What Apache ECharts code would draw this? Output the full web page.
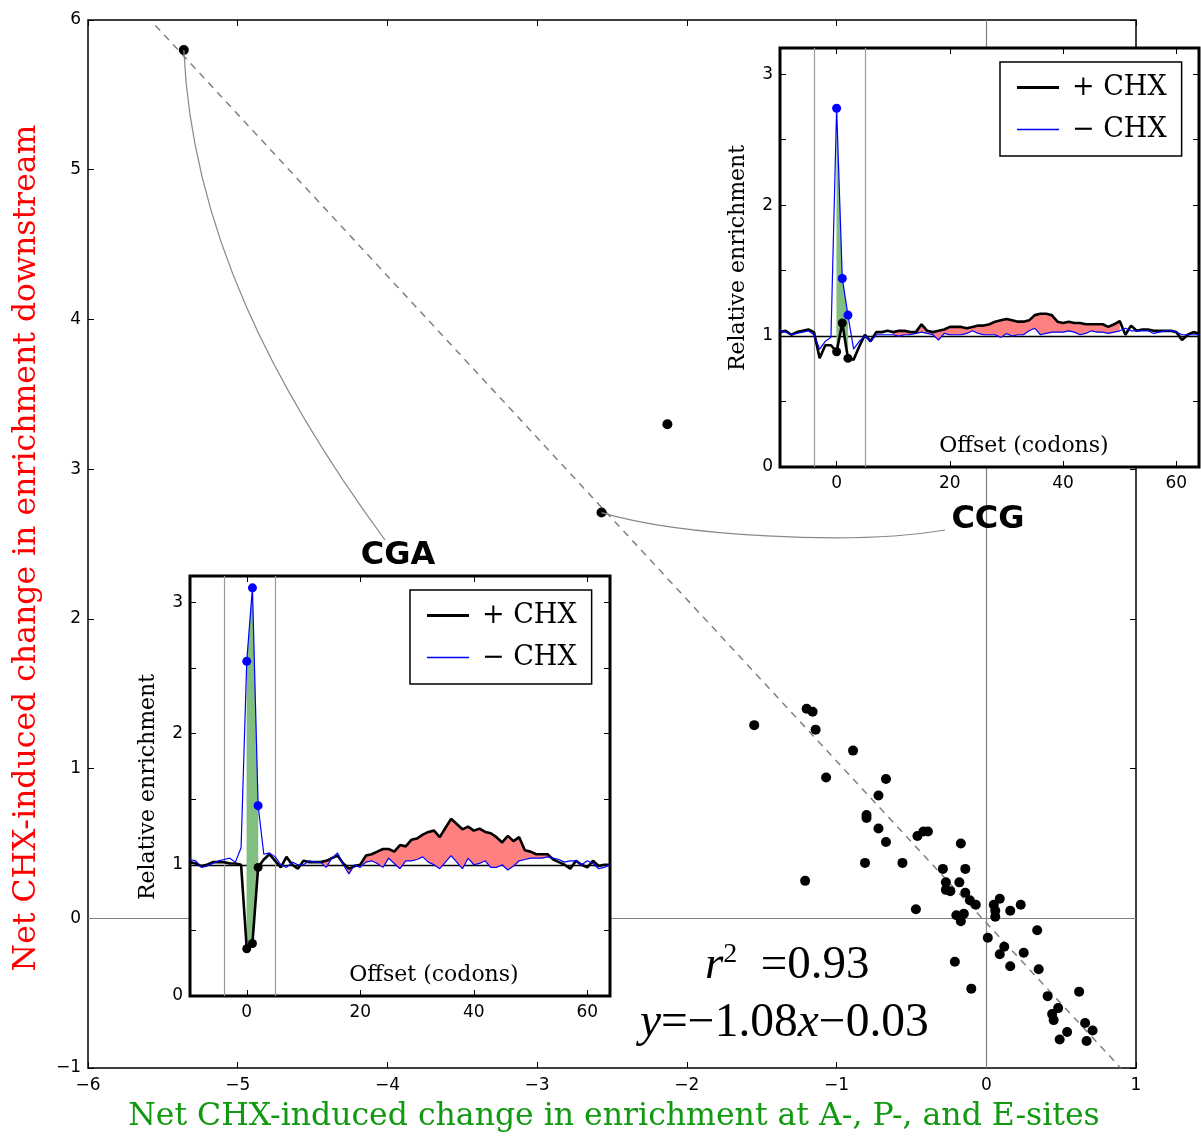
<!DOCTYPE html>
<html><head><meta charset="utf-8">
<script src="https://cdn.jsdelivr.net/npm/echarts@6/dist/echarts.min.js"></script>
<style>html,body{margin:0;padding:0;background:#fff}#c{width:1201px;height:1136px}</style>
</head><body><div id="c"></div>
<script>
// ---------- main scatter (net change at A/P/E sites vs downstream) ----------
const scatterX = [-5.36,-2.13,-2.57,
  -1.55,-1.20,-1.16,-1.14,-0.89,-1.07,-0.67,-0.72,-0.80,-0.80,
  -0.72,-0.67,-0.46,-0.42,-0.39,-0.81,-0.56,-1.21,-0.17,-0.29,
  -0.14,-0.27,-0.27,-0.24,-0.18,-0.14,-0.11,-0.07,-0.47,-0.20,
  -0.15,-0.17,0.09,0.05,0.06,0.06,0.16,0.23,0.34,0.01,
  0.12,0.09,0.25,0.16,0.35,-0.21,-0.10,0.41,0.48,0.44,
  0.45,0.62,0.54,0.49,0.66,0.71,0.67];
const scatterY = [5.80,3.30,2.71,
  1.29,1.40,1.38,1.26,1.12,0.94,0.93,0.82,0.69,0.67,
  0.60,0.51,0.55,0.58,0.58,0.37,0.37,0.25,0.50,0.33,
  0.33,0.24,0.19,0.18,0.24,0.17,0.12,0.09,0.06,0.02,
  0.03,-0.02,0.13,0.09,0.05,0.01,0.05,0.09,-0.08,-0.13,
  -0.19,-0.24,-0.23,-0.32,-0.34,-0.29,-0.47,-0.52,-0.60,-0.64,
  -0.68,-0.49,-0.76,-0.81,-0.70,-0.75,-0.82];
const cgaIndex = 0;   // highlighted codon CGA
const ccgIndex = 2;   // highlighted codon CCG
const fitX = [-5.55, 0.898];
const fitY = [5.964, -1.0];
const r2Text = '0.93';
const slopeText = '1.08';
const interceptText = '0.03';

// ---------- inset profiles ----------
const offsets = [-10,-9,-8,-7,-6,-5,-4,-3,-2,-1,0,1,2,3,4,5,6,7,8,9,10,11,12,13,14,15,16,17,18,19,
  20,21,22,23,24,25,26,27,28,29,30,31,32,33,34,35,36,37,38,39,40,41,42,43,44,45,46,47,48,49,
  50,51,52,53,54,55,56,57,58,59,60,61,62,63,64];
const cgaPlus = [1.02,1.01,0.99,1.00,1.02,1.02,1.02,1.01,1.01,1.00,
  0.36,0.40,0.98,1.04,1.08,1.03,0.98,1.06,1.00,0.97,
  1.03,1.02,1.02,1.02,1.03,1.05,1.07,1.01,0.97,0.99,
  1.00,1.07,1.08,1.10,1.12,1.12,1.10,1.15,1.14,1.19,
  1.20,1.23,1.25,1.26,1.21,1.28,1.35,1.31,1.27,1.29,
  1.26,1.275,1.25,1.24,1.21,1.17,1.22,1.18,1.21,1.11,
  1.10,1.08,1.08,1.08,1.04,1.02,1.00,0.97,1.03,1.00,
  0.98,1.03,0.99,1.00,1.00];
const cgaMinus = [1.04,1.03,0.98,0.99,1.01,1.03,1.04,1.05,1.02,1.13,
  2.55,3.11,1.45,1.08,1.09,1.06,1.00,0.98,1.02,1.00,
  1.00,1.03,1.02,1.02,0.98,1.05,1.09,1.00,0.93,1.00,
  0.98,1.02,1.03,1.01,0.98,1.05,1.01,0.97,1.03,1.03,
  1.04,1.06,1.02,1.00,0.97,1.02,1.07,1.02,0.97,1.05,
  1.00,1.01,1.03,0.98,0.98,1.00,0.96,0.99,1.03,1.04,
  1.05,1.05,1.05,1.06,1.05,1.04,1.02,1.03,1.03,1.00,
  1.03,1.01,0.97,0.98,1.00];
const ccgPlus = [1.03,1.04,1.01,1.03,1.04,1.05,1.03,0.83,0.93,0.93,
  0.88,1.10,0.83,0.82,0.92,1.01,0.96,1.03,1.03,1.04,
  1.03,1.04,1.04,1.03,1.03,1.09,1.04,1.03,1.04,1.05,
  1.07,1.07,1.07,1.06,1.07,1.08,1.08,1.09,1.11,1.12,
  1.13,1.12,1.11,1.11,1.12,1.16,1.17,1.17,1.16,1.11,
  1.10,1.11,1.10,1.10,1.09,1.09,1.09,1.09,1.07,1.09,
  1.115,1.01,1.08,1.04,1.05,1.05,1.04,1.04,1.04,1.04,
  1.03,0.97,1.01,1.03,1.02];
const ccgMinus = [1.04,1.03,1.01,1.02,1.03,1.04,1.01,0.90,0.96,0.99,
  2.74,1.44,1.16,0.90,0.96,1.00,0.96,1.01,1.01,1.01,
  1.01,1.00,1.01,1.01,1.02,1.03,1.02,1.01,0.97,1.02,
  1.01,1.01,1.01,1.02,1.04,1.02,1.01,1.01,1.01,0.99,
  1.02,1.00,1.01,1.01,1.04,1.06,1.01,1.02,1.03,1.03,
  1.03,1.04,1.03,1.01,1.02,1.04,1.03,1.03,1.02,1.03,
  1.04,1.06,1.04,1.04,1.04,1.04,1.02,1.03,1.04,1.04,
  1.03,1.01,1.01,1.01,1.01];
const siteRange = [0, 2];          // green: A/P/E sites
const cgaDownRange = [13, 54];     // red: downstream excess
const ccgDownRange = [10, 50];
const siteLines = [-4, 5];
const insetXTicks = [0, 20, 40, 60];
const legendNames = ['+ CHX', '\u2212 CHX'];

// ---------- build ----------
const chart = echarts.init(document.getElementById('c'), null, {renderer: 'canvas'});
const minus = v => String(v).replace('-', '\u2212');
const SANS = 'DejaVu Sans';
const SERIF = 'DejaVu Serif';

function axisPair(kind, gridIndex, min, max, extra, isInset) {
  const z = isInset ? 12 : 0;
  const common = {
    type: 'value', gridIndex, min, max, z,
    axisLine: {show: false, onZero: false},
    splitLine: {show: false},
    axisTick: Object.assign({show: true, inside: true, length: 6, lineStyle: {color: '#000', width: 1}}, extra.tick || {}),
  };
  const first = Object.assign({}, common, {
    position: kind === 'x' ? 'bottom' : 'left',
    axisLabel: Object.assign({show: true, color: '#000', fontFamily: SANS, fontSize: 17, margin: 8}, extra.label || {})
  }, extra.axis || {});
  const second = Object.assign({}, common, {
    position: kind === 'x' ? 'top' : 'right',
    axisLabel: Object.assign({}, extra.label ? {customValues: extra.label.customValues} : {}, {show: false}),
  }, extra.axis || {});
  return [first, second];
}

const xAxes = [].concat(
  axisPair('x', 0, -6, 1, {axis: {interval: 1}, label: {formatter: minus, margin: 9}}, false),
  axisPair('x', 1, -10, 64, {tick: {customValues: insetXTicks}, label: {customValues: insetXTicks}}, true),
  axisPair('x', 2, -10, 64, {tick: {customValues: insetXTicks}, label: {customValues: insetXTicks}}, true)
);
const intOnly = v => (Math.abs(v - Math.round(v)) < 1e-9 ? String(Math.round(v)) : '');
const yAxes = [].concat(
  axisPair('y', 0, -1, 6, {axis: {interval: 1}, label: {formatter: minus, margin: 7}}, false),
  axisPair('y', 1, 0, 3.2, {axis: {interval: 0.5}, label: {formatter: intOnly, margin: 7}}, true),
  axisPair('y', 2, 0, 3.2, {axis: {interval: 0.5}, label: {formatter: intOnly, margin: 7}}, true)
);

function fillSeries(top, bot, range, color) {
  return {
    type: 'custom', z: 11, silent: true, name: 'fill',
    data: [range],
    renderItem(params, api) {
      const pts = [];
      for (let i = 0; i < offsets.length; i++) {
        if (offsets[i] >= range[0] && offsets[i] <= range[1]) pts.push(api.coord([offsets[i], top[i]]));
      }
      for (let i = offsets.length - 1; i >= 0; i--) {
        if (offsets[i] >= range[0] && offsets[i] <= range[1]) pts.push(api.coord([offsets[i], bot[i]]));
      }
      return {type: 'polygon', shape: {points: pts}, style: {fill: color, stroke: color, lineWidth: 0.3}};
    }
  };
}

function insetSeries(ax, plus, minusArr, downRange) {
  const redTop = plus;
  const redBot = plus.map((v, i) => Math.min(v, minusArr[i]));
  const greenTop = minusArr.map((v, i) => Math.max(v, plus[i]));
  const greenBot = plus;
  const dotIdx = offsets.map((o, i) => i).filter(i => offsets[i] >= siteRange[0] && offsets[i] <= siteRange[1]);
  const list = [
    fillSeries(redTop, redBot, downRange, '#ff8080'),
    fillSeries(greenTop, greenBot, siteRange, '#80bf80'),
    {
      type: 'line', name: legendNames[0], z: 12,
      data: offsets.map((o, i) => [o, plus[i]]),
      symbol: 'none', showSymbol: false, silent: true,
      lineStyle: {color: '#000', width: 2.6}, itemStyle: {color: '#000'},
      markLine: {
        silent: true, symbol: 'none', z: 11, animation: false, label: {show: false},
        data: [
          {yAxis: 1, lineStyle: {color: '#000', width: 1.3, type: 'solid'}},
          {xAxis: siteLines[0], lineStyle: {color: '#999', width: 1.2, type: 'solid'}},
          {xAxis: siteLines[1], lineStyle: {color: '#999', width: 1.2, type: 'solid'}}
        ]
      }
    },
    {
      type: 'line', name: legendNames[1], z: 13,
      data: offsets.map((o, i) => [o, minusArr[i]]),
      symbol: 'none', showSymbol: false, silent: true,
      lineStyle: {color: '#0000ff', width: 1.2}, itemStyle: {color: '#0000ff'}
    },
    {
      type: 'scatter', name: 'dotsPlus', z: 14, silent: true,
      symbolSize: 9, itemStyle: {color: '#000', opacity: 1},
      data: dotIdx.map(i => [offsets[i], plus[i]])
    },
    {
      type: 'scatter', name: 'dotsMinus', z: 14, silent: true,
      symbolSize: 9, itemStyle: {color: '#0000ff', opacity: 1},
      data: dotIdx.map(i => [offsets[i], minusArr[i]])
    }
  ];
  return list.map(s => Object.assign(s, {xAxisIndex: ax, yAxisIndex: ax}));
}

function legendAt(left, top) {
  return {
    left, top, orient: 'vertical', selectedMode: false,
    data: [
      {name: legendNames[0], icon: 'path://M0 0H42V3H0Z', itemStyle: {color: '#000000', borderWidth: 0, opacity: 1}},
      {name: legendNames[1], icon: 'path://M0 0H42V1.4H0Z', itemStyle: {color: '#0000ff', borderWidth: 0, opacity: 1}}
    ],
    itemWidth: 42, itemHeight: 14, itemGap: 15,
    textStyle: {fontFamily: SERIF, fontSize: 27, color: '#000', padding: [0, 0, 0, 8]},
    borderColor: '#000', borderWidth: 1.5, backgroundColor: '#fff',
    padding: [12, 15, 13, 17], z: 20
  };
}

const option = {
  animation: false,
  backgroundColor: '#fff',
  grid: [
    {left: 88, top: 20, width: 1048, height: 1048, show: true, borderColor: '#000', borderWidth: 1.5, backgroundColor: '#fff', z: 0},
    {left: 190, top: 576, width: 420, height: 420, show: true, borderColor: '#000', borderWidth: 3, backgroundColor: '#fff', z: 10},
    {left: 780, top: 48, width: 419, height: 419, show: true, borderColor: '#000', borderWidth: 3, backgroundColor: '#fff', z: 10}
  ],
  xAxis: xAxes,
  yAxis: yAxes,
  legend: [legendAt(410, 590), legendAt(1000, 62)],
  series: [
    {
      type: 'line', name: 'fit', xAxisIndex: 0, yAxisIndex: 0, z: 2, silent: true,
      data: [[fitX[0], fitY[0]], [fitX[1], fitY[1]]],
      symbol: 'none', lineStyle: {color: '#808080', width: 1.5, type: [7, 6]},
      markLine: {
        silent: true, symbol: 'none', z: 1, animation: false, label: {show: false},
        lineStyle: {color: '#808080', width: 1.2, type: 'solid'},
        data: [{xAxis: 0}, {yAxis: 0}]
      }
    },
    {
      type: 'scatter', name: 'codons', xAxisIndex: 0, yAxisIndex: 0, z: 3, silent: true,
      symbolSize: 10, itemStyle: {color: '#000', opacity: 1},
      data: scatterX.map((x, i) => [x, scatterY[i]])
    }
  ].concat(insetSeries(2, cgaPlus, cgaMinus, cgaDownRange),
           insetSeries(4, ccgPlus, ccgMinus, ccgDownRange))
};
chart.setOption(option);

// ---------- annotations ----------
const pCGA = chart.convertToPixel({xAxisIndex: 0, yAxisIndex: 0}, [scatterX[cgaIndex], scatterY[cgaIndex]]);
const pCCG = chart.convertToPixel({xAxisIndex: 0, yAxisIndex: 0}, [scatterX[ccgIndex], scatterY[ccgIndex]]);
const cgaLabel = [398, 556], ccgLabel = [988, 520];
const endCGA = [cgaLabel[0] - 13, cgaLabel[1] - 16];
const endCCG = [ccgLabel[0] - 43, ccgLabel[1] + 10];

const graphics = [
  {type: 'bezierCurve', z: 4, silent: true,
   shape: {x1: pCGA[0], y1: pCGA[1], x2: endCGA[0], y2: endCGA[1], cpx1: pCGA[0] + 8, cpy1: pCGA[1] + 180, cpx2: endCGA[0] - 110, cpy2: endCGA[1] - 150},
   style: {stroke: '#888', lineWidth: 1.2, fill: null}},
  {type: 'bezierCurve', z: 4, silent: true,
   shape: {x1: pCCG[0], y1: pCCG[1], x2: endCCG[0], y2: endCCG[1], cpx1: pCCG[0] + 78, cpy1: pCCG[1] + 23, cpx2: endCCG[0] - 95, cpy2: endCCG[1] + 16},
   style: {stroke: '#888', lineWidth: 1.2, fill: null}},
  {type: 'text', z: 30, x: cgaLabel[0], y: cgaLabel[1], silent: true,
   style: {text: 'CGA', fontFamily: SANS, fontWeight: 'bold', fontSize: 32, fill: '#000', align: 'center', verticalAlign: 'middle'}},
  {type: 'text', z: 30, x: ccgLabel[0], y: ccgLabel[1], silent: true,
   style: {text: 'CCG', fontFamily: SANS, fontWeight: 'bold', fontSize: 32, fill: '#000', align: 'center', verticalAlign: 'middle'}},
  {type: 'text', z: 30, x: 27, y: 548, rotation: Math.PI / 2, silent: true,
   style: {text: 'Net CHX-induced change in enrichment downstream', fontFamily: SERIF, fontSize: 31.5, fill: '#ff0000', align: 'center', verticalAlign: 'middle'}},
  {type: 'text', z: 30, x: 614, y: 1117, silent: true,
   style: {text: 'Net CHX-induced change in enrichment at A-, P-, and E-sites', fontFamily: SERIF, fontSize: 31.5, fill: '#119911', align: 'center', verticalAlign: 'middle'}},
  {type: 'text', z: 30, x: 148, y: 787, rotation: Math.PI / 2, silent: true,
   style: {text: 'Relative enrichment', fontFamily: SERIF, fontSize: 22, fill: '#000', align: 'center', verticalAlign: 'middle'}},
  {type: 'text', z: 30, x: 738, y: 258, rotation: Math.PI / 2, silent: true,
   style: {text: 'Relative enrichment', fontFamily: SERIF, fontSize: 22, fill: '#000', align: 'center', verticalAlign: 'middle'}},
  {type: 'text', z: 30, x: 434, y: 975, silent: true,
   style: {text: 'Offset (codons)', fontFamily: SERIF, fontSize: 22, fill: '#000', align: 'center', verticalAlign: 'middle'}},
  {type: 'text', z: 30, x: 1024, y: 446, silent: true,
   style: {text: 'Offset (codons)', fontFamily: SERIF, fontSize: 22, fill: '#000', align: 'center', verticalAlign: 'middle'}},
  {type: 'text', z: 30, x: 705, y: 966, silent: true,
   style: {text: '{i|r}{s|2}{n|  =' + r2Text + '}', align: 'left', verticalAlign: 'middle',
     rich: {i: {fontFamily: 'Liberation Serif', fontStyle: 'italic', fontSize: 47, fill: '#000', lineHeight: 50},
            s: {fontFamily: 'Liberation Serif', fontSize: 28, fill: '#000', verticalAlign: 'top', lineHeight: 50},
            n: {fontFamily: 'Liberation Serif', fontSize: 47, fill: '#000', lineHeight: 50}}}},
  {type: 'text', z: 30, x: 640, y: 1024, silent: true,
   style: {text: '{i|y}{n|=\u2212' + slopeText + '}{i|x}{n|\u2212' + interceptText + '}', align: 'left', verticalAlign: 'middle',
     rich: {i: {fontFamily: 'Liberation Serif', fontStyle: 'italic', fontSize: 47.5, fill: '#000', lineHeight: 50},
            n: {fontFamily: 'Liberation Serif', fontSize: 47.5, fill: '#000', lineHeight: 50}}}}
];
chart.setOption({graphic: graphics});
</script>
</body></html>
